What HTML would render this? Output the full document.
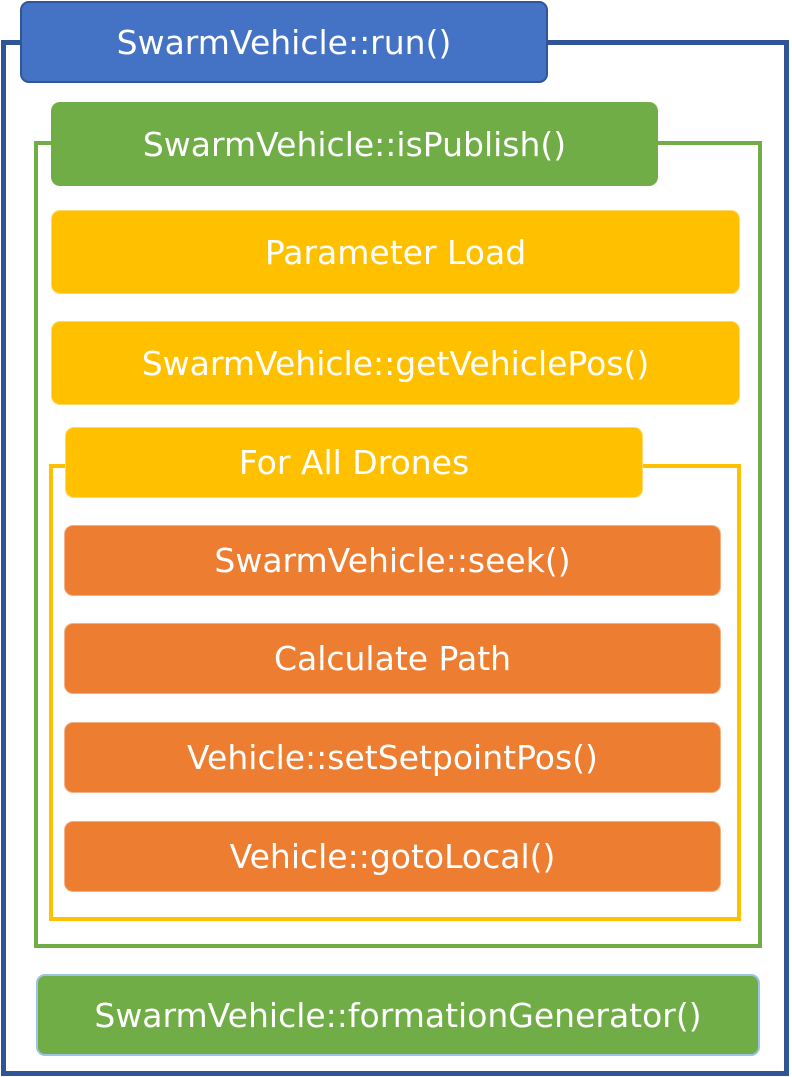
<!DOCTYPE html>
<html><head><meta charset="utf-8"><style>
body{margin:0;width:792px;height:1077px;background:#fff;position:relative;overflow:hidden;font-family:"DejaVu Sans","Liberation Sans",sans-serif;}
.f{position:absolute;box-sizing:border-box;background:transparent;}
.b{position:absolute;box-sizing:border-box;color:#fff;display:flex;align-items:center;justify-content:center;font-size:33px;border-radius:9px;white-space:nowrap;}
.y{background:#FFC000;border:1px solid #FFD966;}
.o{background:#ED7D31;border:1px solid #F4B183;}
.g{background:#70AD47;}
</style></head><body>
<div class="f" style="left:1px;top:40px;width:788px;height:1036px;border:5px solid #2F5597;"></div>
<div class="f" style="left:34px;top:141px;width:728px;height:807px;border:4px solid #70AD47;"></div>
<div class="f" style="left:49px;top:464px;width:692px;height:457px;border:4px solid #FFC000;"></div>

<div class="b" style="left:20px;top:1px;width:528px;height:82px;background:#4472C4;border:2px solid #2F5597;">SwarmVehicle::run()</div>
<div class="b g" style="left:51px;top:102px;width:607px;height:84px;">SwarmVehicle::isPublish()</div>
<div class="b y" style="left:51px;top:210px;width:689px;height:84px;">Parameter Load</div>
<div class="b y" style="left:51px;top:321px;width:689px;height:84px;">SwarmVehicle::getVehiclePos()</div>
<div class="b y" style="left:65px;top:427px;width:578px;height:71px;">For All Drones</div>
<div class="b o" style="left:64px;top:525px;width:657px;height:71px;">SwarmVehicle::seek()</div>
<div class="b o" style="left:64px;top:623px;width:657px;height:71px;">Calculate Path</div>
<div class="b o" style="left:64px;top:722px;width:657px;height:71px;">Vehicle::setSetpointPos()</div>
<div class="b o" style="left:64px;top:821px;width:657px;height:71px;">Vehicle::gotoLocal()</div>
<div class="b g" style="left:36px;top:974px;width:724px;height:82px;border:2px solid #9DC3E6;">SwarmVehicle::formationGenerator()</div>
</body></html>
